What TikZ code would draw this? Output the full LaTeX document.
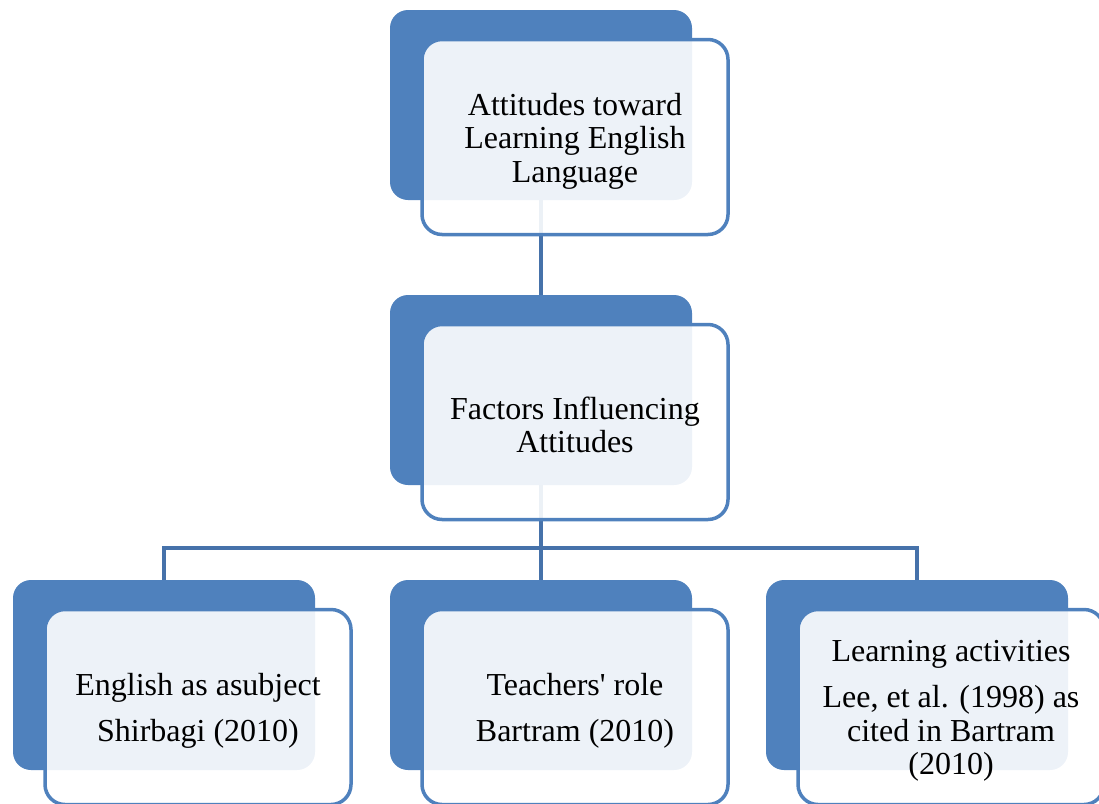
\documentclass[tikz,border=0pt]{standalone}
\usepackage{fontspec}
\setmainfont{Liberation Serif}
\usetikzlibrary{calc}
\definecolor{boxblue}{HTML}{4F81BD}
\definecolor{linkblue}{HTML}{4672AA}
\tikzset{
    backbox/.style={fill=boxblue, rounded corners=18pt, minimum width=302pt, minimum height=190pt, inner sep=0pt, outer sep=0pt},
    frontbox/.style={draw=boxblue, line width=3.5pt, fill=white, fill opacity=0.9, rounded corners=20pt, minimum width=306pt, minimum height=195pt, inner sep=0pt, outer sep=0pt},
    boxtext/.style={align=center, inner sep=0pt, font=\fontsize{32}{33.5}\selectfont},
    link/.style={draw=linkblue, line width=4pt}
}

\begin{document}
\begin{tikzpicture}[x=1pt,y=-1pt]
\useasboundingbox (0,0) rectangle (1099,803);
\clip (0,0) rectangle (1099,803);
% back plates
\foreach \p/\x/\y in {top/541/105, mid/541/390, left/164/675, centre/541/675, right/917/675}{
    \node[backbox] (\p B) at (\x,\y) {};
}
% connectors
\coordinate (bus) at (541,548);
\draw[link] (topB.south) -- (midB.north);
\draw[link] (midB.south) -- (midB.south |- bus);
\draw[link] (leftB.north) |- (bus) -| (rightB.north);
\draw[link] (bus) -- (centreB.north);
% front boxes
\foreach \p in {top, mid, left, centre, right}{
    \node[frontbox] (\p F) at ($(\p B)+(34,32)$) {};
}
% texts
\node[boxtext] (topT) at ($(topF)+(0,4)$) {Attitudes toward\\Learning English\\Language};
\node[boxtext] (midT) at ($(midF)+(0,3)$) {Factors Influencing\\Attitudes};
\node[boxtext] (leftT) at ($(leftF)+(0,4)$) {English as asubject\\[12pt]Shirbagi (2010)};
\node[boxtext] (centreT) at ($(centreF)+(0,4)$) {Teachers\textquotesingle{} role\\[12pt]Bartram (2010)};
\node[boxtext] (rightT) at ($(rightF)+(0,4)$) {Learning activities\\[13pt]Lee, et al. (1998) as\\cited in Bartram\\(2010)};
\end{tikzpicture}
\end{document}
